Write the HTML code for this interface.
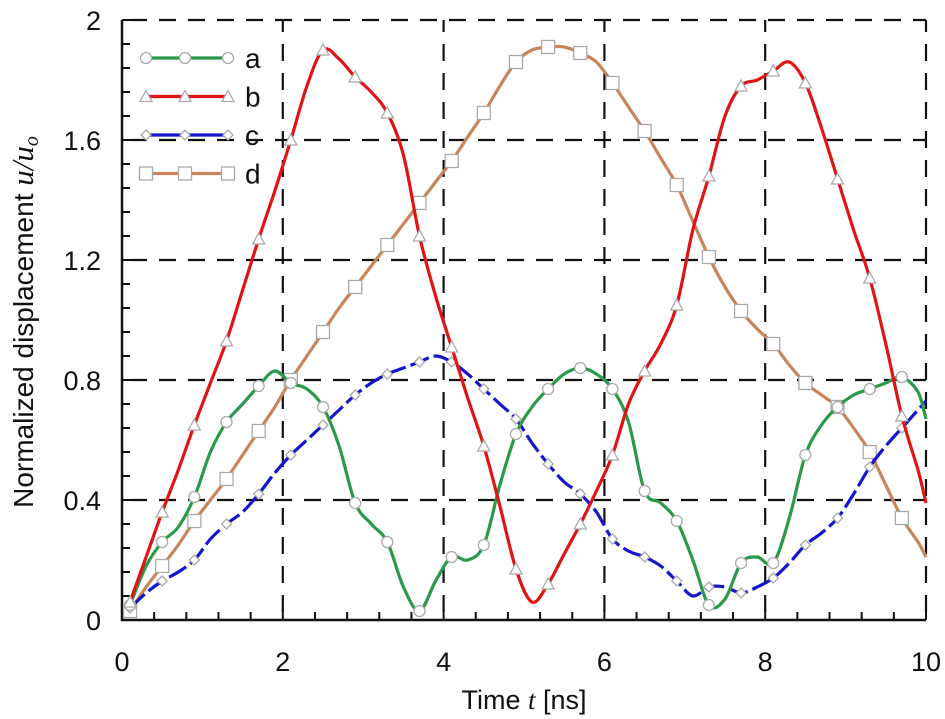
<!DOCTYPE html>
<html><head><meta charset="utf-8"><style>
html,body{margin:0;padding:0;background:#fff;}
svg{display:block;font-family:"Liberation Sans",sans-serif;}
</style></head><body>
<svg id="chart" width="945" height="719" viewBox="0 0 945 719"></svg>
<script>
const times=[];for(let k=0;k<50;k++)times.push(+(0.1+0.2*k).toFixed(1));times.push(10);
const seriesA=[0.05,0.18,0.26,0.31,0.41,0.56,0.66,0.72,0.78,0.83,0.79,0.77,0.71,0.58,0.39,0.32,0.26,0.11,0.03,0.13,0.21,0.20,0.25,0.45,0.62,0.71,0.77,0.82,0.84,0.82,0.77,0.66,0.43,0.39,0.33,0.20,0.05,0.07,0.19,0.21,0.19,0.34,0.55,0.65,0.71,0.75,0.77,0.79,0.81,0.76,0.67];
const seriesB=[0.06,0.21,0.36,0.50,0.65,0.79,0.93,1.10,1.27,1.43,1.60,1.78,1.90,1.87,1.81,1.76,1.69,1.55,1.28,1.08,0.91,0.74,0.58,0.38,0.17,0.06,0.12,0.22,0.32,0.43,0.55,0.72,0.83,0.92,1.05,1.30,1.48,1.68,1.78,1.80,1.83,1.86,1.79,1.64,1.47,1.30,1.14,0.92,0.68,0.50,0.39];
const seriesC=[0.04,0.09,0.13,0.16,0.20,0.27,0.32,0.36,0.42,0.49,0.55,0.60,0.65,0.70,0.75,0.79,0.82,0.84,0.86,0.88,0.86,0.82,0.77,0.72,0.67,0.59,0.52,0.46,0.42,0.36,0.27,0.23,0.21,0.18,0.13,0.08,0.11,0.11,0.09,0.11,0.14,0.19,0.25,0.29,0.34,0.42,0.51,0.58,0.64,0.70,0.73];
const seriesD=[0.03,0.11,0.18,0.25,0.33,0.40,0.47,0.55,0.63,0.71,0.80,0.88,0.96,1.04,1.11,1.18,1.25,1.32,1.39,1.46,1.53,1.61,1.69,1.78,1.86,1.90,1.91,1.91,1.89,1.86,1.79,1.71,1.63,1.54,1.45,1.33,1.21,1.11,1.03,0.97,0.92,0.85,0.79,0.75,0.71,0.64,0.56,0.45,0.34,0.26,0.21];
const xTicks=[0,2,4,6,8,10];
const yTicks=[0,0.4,0.8,1.2,1.6,2];
const yTickLabels=["0","0.4","0.8","1.2","1.6","2"];
const seriesNames=["a","b","c","d"];

const NS="http://www.w3.org/2000/svg";
const svg=document.getElementById('chart');
const X0=122,X1=926,Y0=620,Y1=20;
const xs=t=>X0+(X1-X0)*t/10;
const ys=v=>Y0-(Y0-Y1)*v/2;
function el(tag,attrs,parent){const e=document.createElementNS(NS,tag);for(const k in attrs)e.setAttribute(k,attrs[k]);(parent||svg).appendChild(e);return e;}

const grid=el('g',{});


xTicks.forEach(t=>{if(t===0)return;const l=el('line',{x1:xs(t),x2:xs(t),y1:Y0,y2:Y1,stroke:'#111','stroke-width':2.2,'stroke-dasharray':'17 12','stroke-dashoffset':-8},grid);

});
yTicks.forEach(v=>{if(v===0)return;const l=el('line',{x1:X0,x2:X1,y1:ys(v),y2:ys(v),stroke:'#111','stroke-width':2.2,'stroke-dasharray':'17 12','stroke-dashoffset':-8},grid);

});

const ax=el('path',{d:`M${X0},${Y1} L${X0},${Y0} L${X1},${Y0}`,fill:'none',stroke:'#111','stroke-width':2.5});


for(let t=0;t<=10.001;t+=0.4){const L=(Math.abs(t/2-Math.round(t/2))<0.01)?10:8;el('line',{x1:xs(t),x2:xs(t),y1:Y0,y2:Y0-L,stroke:'#111','stroke-width':2});}
for(let v=0;v<=2.001;v+=0.08){el('line',{x1:X0,x2:X0+8,y1:ys(v),y2:ys(v),stroke:'#111','stroke-width':2});}
xTicks.forEach(t=>{const tx=el('text',{x:xs(t),y:671,'text-anchor':'middle','font-size':27,fill:'#111'});tx.textContent=t;

});
yTicks.forEach((v,i)=>{const tx=el('text',{x:101,y:ys(v)+10,'text-anchor':'end','font-size':27,fill:'#111'});tx.textContent=yTickLabels[i];

});

function smooth(pts){let d=`M${pts[0][0]},${pts[0][1]}`;for(let i=0;i<pts.length-1;i++){const p0=pts[Math.max(0,i-1)],p1=pts[i],p2=pts[i+1],p3=pts[Math.min(pts.length-1,i+2)];
const c1=[p1[0]+(p2[0]-p0[0])/6,p1[1]+(p2[1]-p0[1])/6],c2=[p2[0]-(p3[0]-p1[0])/6,p2[1]-(p3[1]-p1[1])/6];
d+=` C${c1[0].toFixed(1)},${c1[1].toFixed(1)} ${c2[0].toFixed(1)},${c2[1].toFixed(1)} ${p2[0].toFixed(1)},${p2[1].toFixed(1)}`;}return d;}
function marker(type,x,y,g){const st={fill:'#fff',stroke:'#aaa','stroke-width':1.3};let m;
if(type==='circle')m=el('circle',Object.assign({cx:x,cy:y,r:5.5},st),g);
else if(type==='tri')m=el('polygon',Object.assign({points:`${x},${y-6} ${x-6},${y+5} ${x+6},${y+5}`},st),g);
else if(type==='diamond')m=el('polygon',Object.assign({points:`${x},${y-5} ${x+5},${y} ${x},${y+5} ${x-5},${y}`},st),g);
else m=el('rect',Object.assign({x:x-6.5,y:y-6.5,width:13,height:13},st),g);

}
const defs=[{v:seriesA,c:'#2a9a4a',m:'circle',dash:null},{v:seriesB,c:'#e01414',m:'tri',dash:null},{v:seriesC,c:'#1515cc',m:'diamond',dash:'20 5'},{v:seriesD,c:'#c8845a',m:'square',dash:null}];
const order=[3,2,0,1];
order.forEach(i=>{const s=defs[i];const g=el('g',{});


const pts=times.map((t,j)=>[xs(t),ys(s.v[j])]);
const p=el('path',{d:smooth(pts),fill:'none',stroke:s.c,'stroke-width':3.2},g);if(s.dash)p.setAttribute('stroke-dasharray',s.dash);


times.forEach((t,j)=>{if(j%2===0&&j<50)marker(s.m,pts[j][0],pts[j][1],g);});});

const lg=el('g',{});


defs.forEach((s,i)=>{const y=58+38.5*i;const e=el('g',{},lg);


el('line',{x1:146,x2:228,y1:y,y2:y,stroke:s.c,'stroke-width':3.2},e);
[146,185,228].forEach(x=>marker(s.m,x,y,e));
const tx=el('text',{x:245,y:y+10,'font-size':28,fill:'#111'},e);tx.textContent=seriesNames[i];});

const xt=el('text',{x:524,y:709,'text-anchor':'middle','font-size':27,fill:'#111'});


xt.innerHTML='Time <tspan font-family="Liberation Serif, serif" font-style="italic">t</tspan> [ns]';
const yt=el('text',{x:0,y:0,'text-anchor':'middle','font-size':28,fill:'#111',transform:'translate(33,322) rotate(-90)'});


yt.innerHTML='Normalized displacement <tspan font-family="Liberation Serif, serif" font-style="italic" font-size="31">u</tspan><tspan font-family="Liberation Serif, serif" font-style="italic" font-size="31">/u</tspan><tspan font-family="Liberation Serif, serif" font-style="italic" font-size="20" dy="5">o</tspan>';
</script>
</body></html>
